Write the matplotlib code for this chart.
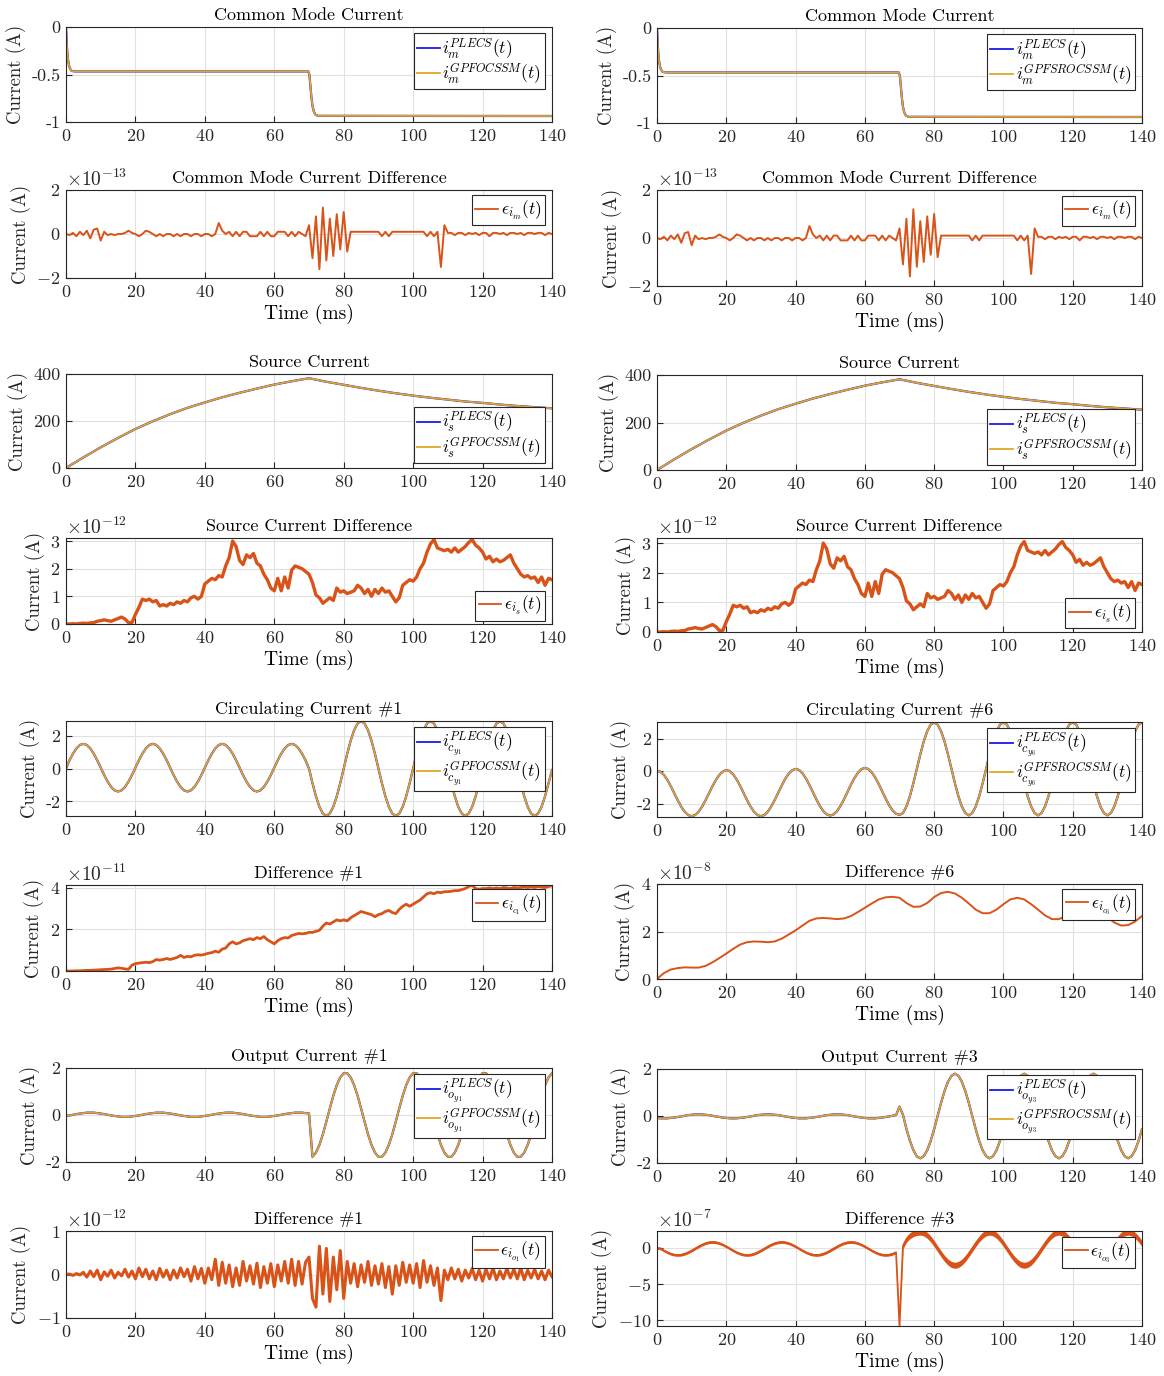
import numpy as np
import matplotlib
matplotlib.use('Agg')
import matplotlib.pyplot as plt
from matplotlib.ticker import FuncFormatter

plt.rcParams.update({
    'font.family': ['cmr10', 'DejaVu Serif'],
    'mathtext.fontset': 'cm',
    'axes.unicode_minus': False,
    'axes.formatter.use_mathtext': True,
    'font.size': 13,
})

# ---------------- data ----------------
time_ms = np.arange(0, 141, 1)          # common 1 ms grid
src_t = np.arange(0, 141, 5)            # source current grid
d6_t = np.arange(0, 141, 2)             # difference #6 grid

cm_t = [0, 0.2, 0.4, 0.6, 0.9, 1.2, 1.6, 2.0, 3.0, 69.8, 70.1, 70.4, 70.7, 71.0, 71.4, 71.8, 72.5, 140]
cm_current = [0, -0.16, -0.28, -0.35, -0.41, -0.44, -0.46, -0.465, -0.468, -0.468,
              -0.50, -0.62, -0.74, -0.83, -0.89, -0.92, -0.935, -0.937]

cm_diff_e13 = ([0.00, -0.05, 0.05, -0.10, 0.10, -0.05, 0.15, -0.20, 0.20, 0.25, -0.30, 0.10]
               + [-0.05, 0.00, -0.05, 0.00, 0.00, 0.05, 0.15, 0.05]
               + [0.00, -0.10, 0.00, 0.15, 0.10, 0.00, -0.10, 0.00, -0.10, 0.00, 0.00, -0.10,
                  0.00, -0.10, 0.00, 0.00, -0.10, 0.00, 0.00, -0.10, 0.00, 0.00, -0.10, 0.00]
               + [0.50]
               + [0.15, 0.00, 0.10, -0.10, 0.10, -0.10, 0.10, 0.10, -0.10, -0.10, -0.10, 0.10,
                  -0.10, 0.10, -0.10, -0.10, 0.10, 0.10, 0.10, -0.10, 0.10, -0.10, 0.10, 0.00, -0.10]
               + [0.40, -1.10, 0.80, -1.60, 1.20, -1.20, 0.70, -1.00, 0.90, -0.70, 1.00, -0.80]
               + [0.10, 0.10, 0.10, 0.10, 0.10, 0.10, 0.10, 0.10, 0.10, -0.10, 0.10, -0.10, 0.10,
                  0.10, 0.10, 0.10, 0.10, 0.10, 0.10, 0.10, 0.10, 0.10, -0.10, 0.10, -0.10, 0.10]
               + [-1.50]
               + [0.40, 0.05, 0.05, -0.05, 0.05, 0.05, -0.05, 0.05, 0.00, 0.05, -0.05, 0.05, 0.05,
                  -0.10, 0.05, 0.05, 0.00, 0.05, -0.05, 0.05, 0.05, 0.00, 0.05, -0.05, 0.05, 0.05,
                  0.00, 0.05, 0.05, -0.05, 0.05, 0.00])

source_current = [0, 45, 88, 128, 166, 199, 229, 256, 279, 301, 320, 338, 355, 369, 382,
                  367, 354, 341, 329, 318, 308, 299, 291, 283, 277, 270, 264, 259, 254]

source_diff_e12 = [0.00, 0.00, 0.01, 0.00, 0.02, 0.03, 0.02, 0.04, 0.05, 0.10,
                   0.12, 0.15, 0.12, 0.10, 0.15, 0.20, 0.25, 0.18, 0.05, 0.05,
                   0.35, 0.60, 0.90, 0.85, 0.90, 0.80, 0.85, 0.65, 0.70, 0.65,
                   0.75, 0.70, 0.80, 0.75, 0.85, 0.80, 0.95, 1.00, 0.90, 1.00,
                   1.45, 1.55, 1.65, 1.60, 1.75, 1.70, 2.10, 2.40, 3.00, 2.80,
                   2.30, 2.15, 2.50, 2.40, 2.55, 2.20, 2.10, 1.80, 1.60, 1.30,
                   1.20, 1.65, 1.20, 1.70, 1.30, 1.95, 2.10, 2.05, 2.00, 1.90,
                   1.80, 1.50, 1.05, 0.95, 0.75, 0.85, 0.95, 0.85, 1.30, 1.15,
                   1.20, 1.10, 1.15, 1.20, 1.40, 1.30, 1.10, 1.25, 1.00, 1.25,
                   1.10, 1.30, 1.15, 1.20, 1.00, 0.80, 0.95, 1.40, 1.50, 1.60,
                   1.55, 1.70, 2.00, 2.20, 2.60, 2.90, 3.05, 2.75, 2.70, 2.65,
                   2.70, 2.60, 2.75, 2.60, 2.70, 2.80, 2.95, 3.05, 2.85, 2.75,
                   2.60, 2.35, 2.45, 2.25, 2.35, 2.25, 2.30, 2.40, 2.50, 2.20,
                   2.00, 1.80, 1.70, 1.75, 1.65, 1.70, 1.50, 1.70, 1.40, 1.65,
                   1.60]

_c1_pre = [0.05, 0.50, 0.90, 1.22, 1.43, 1.50, 1.43, 1.22, 0.90, 0.50,
           0.05, -0.40, -0.80, -1.12, -1.33, -1.40, -1.33, -1.12, -0.80, -0.40]
_c1_post = [0.00, 0.89, 1.69, 2.33, 2.74, 2.88, 2.74, 2.33, 1.69, 0.89,
            0.00, -0.89, -1.69, -2.33, -2.74, -2.88, -2.74, -2.33, -1.69, -0.89]
circ1 = ([0.00] + _c1_pre[1:] + _c1_pre + _c1_pre + _c1_pre[:10]
         + _c1_post[10:] + _c1_post * 3 + [-0.10])

_c6_post = [-2.70, -2.56, -2.16, -1.53, -0.73, 0.15, 1.03, 1.83, 2.46, 2.86,
            3.00, 2.86, 2.46, 1.83, 1.03, 0.15, -0.73, -1.53, -2.16, -2.56]
circ6 = ([0.00, -0.02, -0.22, -0.53, -0.92, -1.35, -1.78, -2.17, -2.48, -2.68,
          -2.75, -2.68, -2.48, -2.17, -1.78, -1.35, -0.92, -0.53, -0.22, -0.02]
         + [0.08, 0.01, -0.19, -0.50, -0.89, -1.33, -1.77, -2.16, -2.48, -2.68,
            -2.75, -2.68, -2.47, -2.15, -1.75, -1.31, -0.87, -0.47, -0.15, 0.06]
         + [0.15, 0.08, -0.12, -0.44, -0.84, -1.28, -1.72, -2.12, -2.44, -2.64,
            -2.71, -2.64, -2.43, -2.11, -1.71, -1.26, -0.81, -0.41, -0.09, 0.13]
         + [0.21, 0.14, -0.07, -0.38, -0.78, -1.23, -1.67, -2.08, -2.40, -2.60]
         + [-2.67] + _c6_post[1:] + _c6_post * 2 + _c6_post[:10] + [3.00])

diff_c1_e11 = [0.00, 0.00, 0.00, 0.01, 0.01, 0.02, 0.03, 0.03, 0.04, 0.05,
               0.06, 0.07, 0.08, 0.09, 0.12, 0.15, 0.13, 0.10, 0.08, 0.28,
               0.35, 0.38, 0.40, 0.42, 0.40, 0.45, 0.55, 0.52, 0.55, 0.60,
               0.55, 0.60, 0.65, 0.75, 0.65, 0.70, 0.68, 0.75, 0.78, 0.76,
               0.80, 0.85, 0.88, 0.95, 0.90, 1.05, 1.10, 1.30, 1.40, 1.30,
               1.35, 1.45, 1.50, 1.55, 1.50, 1.60, 1.55, 1.65, 1.50, 1.40,
               1.30, 1.45, 1.55, 1.60, 1.58, 1.70, 1.75, 1.80, 1.78, 1.80,
               1.85, 1.85, 1.90, 1.95, 2.15, 2.30, 2.25, 2.35, 2.45, 2.40,
               2.45, 2.40, 2.55, 2.65, 2.75, 2.85, 2.80, 2.75, 2.70, 2.60,
               2.70, 2.75, 2.85, 2.90, 2.80, 2.75, 2.95, 3.10, 3.20, 3.10,
               3.20, 3.30, 3.40, 3.55, 3.70, 3.75, 3.70, 3.78, 3.75, 3.80,
               3.80, 3.82, 3.85, 3.85, 3.90, 3.95, 4.05, 4.10, 3.95, 3.92,
               3.95, 3.95, 3.98, 3.95, 3.98, 3.95, 4.00, 3.98, 3.95, 4.00,
               3.98, 4.00, 4.02, 4.00, 4.03, 4.00, 4.05, 4.02, 4.00, 4.05,
               4.08]

diff_c6_e8 = [0.00, 0.25, 0.40, 0.46, 0.49, 0.48, 0.48, 0.55, 0.70, 0.88,
              1.07, 1.27, 1.45, 1.55, 1.58, 1.57, 1.55, 1.58, 1.70, 1.87,
              2.05, 2.25, 2.45, 2.55, 2.57, 2.55, 2.52, 2.55, 2.65, 2.82,
              3.00, 3.18, 3.35, 3.44, 3.46, 3.42, 3.20, 3.04, 3.05, 3.20,
              3.45, 3.62, 3.67, 3.60, 3.42, 3.18, 2.92, 2.77, 2.77, 2.92,
              3.15, 3.35, 3.42, 3.35, 3.15, 2.92, 2.68, 2.52, 2.52, 2.65,
              2.88, 3.08, 3.15, 3.08, 2.85, 2.60, 2.38, 2.25, 2.27, 2.42,
              2.65]

_o1_pre = [-0.04, -0.02, 0.01, 0.04, 0.06, 0.08, 0.10, 0.10, 0.10, 0.08,
           0.06, 0.04, 0.01, -0.02, -0.04, -0.06, -0.08, -0.08, -0.08, -0.06]
_o1_post = [-1.78, -1.60, -1.27, -0.82, -0.28, 0.28, 0.82, 1.27, 1.60, 1.78,
            1.78, 1.60, 1.27, 0.82, 0.28, -0.28, -0.82, -1.27, -1.60, -1.78]
out1 = _o1_pre * 3 + _o1_pre[:10] + [0.07] + _o1_post * 3 + _o1_post[:10]

_o3_pre = [-0.08, -0.10, -0.10, -0.10, -0.08, -0.07, -0.04, -0.02, 0.01, 0.04,
           0.05, 0.07, 0.07, 0.07, 0.05, 0.04, 0.01, -0.02, -0.04, -0.07]
_o3_post = [-1.80, -1.71, -1.46, -1.06, -0.56, 0.00, 0.56, 1.06, 1.46, 1.71,
            1.80, 1.71, 1.46, 1.06, 0.56, 0.00, -0.56, -1.06, -1.46, -1.71]
out3 = (_o3_pre * 3 + _o3_pre[:10] + [0.40] + [0.05, -0.55, -1.05, -1.45, -1.72]
        + _o3_post * 3 + _o3_post[:5])

diff_o1_e12 = [0.00, 0.01, -0.02, 0.02, -0.01, 0.05, -0.06, 0.08, -0.05, 0.10,
               -0.12, 0.06, -0.04, 0.10, -0.08, 0.05, -0.03, 0.12, -0.06, 0.08,
               -0.10, 0.15, -0.05, 0.12, -0.10, 0.08, -0.12, 0.14, -0.06, 0.10,
               -0.12, 0.10, -0.08, 0.15, -0.05, 0.12, -0.15, 0.18, -0.10, 0.14,
               -0.20, 0.15, -0.12, 0.35, -0.25, 0.28, -0.20, 0.22, -0.28, 0.15,
               -0.25, 0.30, -0.15, 0.20, -0.22, 0.26, -0.30, 0.18, -0.20, 0.25,
               -0.28, 0.22, -0.15, 0.30, -0.20, 0.35, -0.25, 0.30, -0.22, 0.28,
               0.40, -0.55, -0.75, 0.65, -0.45, 0.60, -0.62, 0.40, -0.35, 0.55,
               -0.55, 0.30, -0.20, 0.25, -0.28, 0.22, -0.18, 0.30, -0.25, 0.20,
               -0.22, 0.25, -0.30, 0.18, -0.45, 0.20, -0.25, 0.28, -0.18, 0.22,
               -0.20, 0.25, -0.30, 0.32, -0.18, 0.20, -0.25, 0.15, -0.60, 0.10,
               -0.12, 0.15, -0.10, 0.12, -0.15, 0.10, -0.08, 0.14, -0.12, 0.10,
               -0.15, 0.12, -0.10, 0.15, -0.12, 0.08, -0.10, 0.14, -0.08, 0.12,
               -0.10, 0.15, -0.12, 0.10, -0.08, 0.12, -0.10, 0.08, -0.12, 0.10,
               -0.05]

_d3_pre = [-0.08, -0.36, -0.61, -0.81, -0.94, -0.98, -0.94, -0.81, -0.61, -0.36,
           -0.08, 0.20, 0.45, 0.65, 0.78, 0.82, 0.78, 0.65, 0.45, 0.20]
_d3_post = [2.20, 2.09, 1.76, 1.25, 0.61, -0.10, -0.81, -1.45, -1.96, -2.29,
            -2.40, -2.29, -1.96, -1.45, -0.81, -0.10, 0.61, 1.25, 1.76, 2.09]
diff_o3_e7 = ([0.00] + _d3_pre * 3 + _d3_pre[:9] + [-10.8]
              + [0.30, 1.20, 1.70, 2.00, 2.15] + _d3_post * 3 + _d3_post[:5])
diff_o3_ripple_e7 = [0.18] * 71 + [0.42] * 70

# ---------------- style ----------------
BLUE = '#1a1ae6'
ORANGE = '#E2A624'
DIFF = '#D95319'
AXC = '#262626'
W, H = 1164, 1376

fig = plt.figure(figsize=(W / 100, H / 100), dpi=100)


def make_ax(x0, top, x1, bottom):
    ax = fig.add_axes([x0 / W, 1 - bottom / H, (x1 - x0) / W, (bottom - top) / H])
    ax.set_xlim(0, 140)
    ax.set_xticks(np.arange(0, 141, 20))
    ax.grid(True, color='#e1e1e1', lw=0.8)
    ax.set_axisbelow(True)
    for s in ax.spines.values():
        s.set_color(AXC)
        s.set_linewidth(0.8)
    ax.tick_params(direction='in', length=4, width=0.8, color=AXC,
                   labelcolor=AXC, labelsize=13, pad=4)
    ax.set_ylabel('Current (A)', fontsize=13.5, color=AXC, labelpad=4)
    return ax


def plain_fmt(ax):
    ax.yaxis.set_major_formatter(FuncFormatter(lambda v, p: f'{v:g}'))


def sci(ax, p):
    ax.ticklabel_format(axis='y', style='sci', scilimits=(p, p), useMathText=True)
    ax.yaxis.get_offset_text().set_fontsize(14)
    ax.yaxis.get_offset_text().set_color(AXC)


def leg(ax, loc='upper right', anchor=(0.985, 0.94)):
    lg = ax.legend(loc=loc, bbox_to_anchor=anchor, fontsize=12.5, frameon=True,
                   fancybox=False, edgecolor=AXC, framealpha=1, borderpad=0.2,
                   handlelength=1.3, handletextpad=0.15, labelspacing=0.05,
                   borderaxespad=0)
    lg.get_frame().set_linewidth(0.8)
    for h in lg.get_lines():
        h.set_linewidth(1.3)


def pair(ax, t, y, sub, name):
    ax.plot(t, y, color=BLUE, lw=1.6, label=rf'$i_{{{sub}}}^{{PLECS}}(t)$')
    ax.plot(t, y, color=ORANGE, lw=1.3, label=rf'$i_{{{sub}}}^{{{name}}}(t)$')


def title(ax, s):
    ax.set_title(s, fontsize=13, pad=5)


def xlab(ax):
    ax.set_xlabel('Time (ms)', fontsize=14, labelpad=3)


cols = [(66, 552, 'GPFOCSSM'), (657, 1142, 'GPFSROCSSM')]
rows_L = [(27, 122), (190, 278), (374, 468), (538, 624), (721, 816), (885, 971), (1068, 1162), (1231, 1318)]
rows_R = [(28, 123), (190, 286), (375, 470), (538, 632), (722, 817), (884, 979), (1069, 1163), (1231, 1326)]

for ci, ((x0, x1, name), rows) in enumerate(zip(cols, [rows_L, rows_R])):
    # Row 1: common mode current
    ax = make_ax(x0, rows[0][0], x1, rows[0][1])
    pair(ax, cm_t, cm_current, 'm', name)
    ax.set_ylim(-1, 0)
    ax.set_yticks([-1, -0.5, 0])
    plain_fmt(ax)
    title(ax, 'Common Mode Current')
    leg(ax)

    # Row 2: CM diff
    ax = make_ax(x0, rows[1][0], x1, rows[1][1])
    ax.plot(time_ms, np.array(cm_diff_e13) * 1e-13, color=DIFF, lw=1.4, label=r'$\epsilon_{i_m}(t)$')
    ax.set_ylim(-2e-13, 2e-13)
    ax.set_yticks([-2e-13, 0, 2e-13])
    sci(ax, -13)
    title(ax, 'Common Mode Current Difference')
    xlab(ax)
    leg(ax)

    # Row 3: source current
    ax = make_ax(x0, rows[2][0], x1, rows[2][1])
    pair(ax, src_t, source_current, 's', name)
    ax.set_ylim(0, 400)
    ax.set_yticks([0, 200, 400])
    plain_fmt(ax)
    title(ax, 'Source Current')
    leg(ax, 'lower right', (0.985, 0.05))

    # Row 4: source diff
    ax = make_ax(x0, rows[3][0], x1, rows[3][1])
    ax.plot(time_ms, np.array(source_diff_e12) * 1e-12, color=DIFF, lw=2.4, label=r'$\epsilon_{i_s}(t)$')
    ax.set_ylim(0, (3.11 if ci == 0 else 3.17) * 1e-12)
    ax.set_yticks([0, 1e-12, 2e-12, 3e-12])
    sci(ax, -12)
    title(ax, 'Source Current Difference')
    xlab(ax)
    leg(ax, 'lower right', (0.985, 0.04))

    # Row 5: circulating current
    ax = make_ax(x0, rows[4][0], x1, rows[4][1])
    if ci == 0:
        pair(ax, time_ms, circ1, 'c_{y_1}', name)
        ax.set_ylim(-2.89, 2.89)
        title(ax, 'Circulating Current #1')
    else:
        pair(ax, time_ms, circ6, 'c_{y_6}', name)
        ax.set_ylim(-2.8, 3.02)
        title(ax, 'Circulating Current #6')
    ax.set_yticks([-2, 0, 2])
    plain_fmt(ax)
    leg(ax)

    # Row 6: circulating difference
    ax = make_ax(x0, rows[5][0], x1, rows[5][1])
    if ci == 0:
        ax.plot(time_ms, np.array(diff_c1_e11) * 1e-11, color=DIFF, lw=2.0, label=r'$\epsilon_{i_{c_1}}(t)$')
        ax.set_ylim(0, 4.12e-11)
        ax.set_yticks([0, 2e-11, 4e-11])
        sci(ax, -11)
        title(ax, 'Difference #1')
    else:
        ax.plot(d6_t, np.array(diff_c6_e8) * 1e-8, color=DIFF, lw=1.4, label=r'$\epsilon_{i_{c_6}}(t)$')
        ax.set_ylim(0, 4e-8)
        ax.set_yticks([0, 2e-8, 4e-8])
        sci(ax, -8)
        title(ax, 'Difference #6')
    xlab(ax)
    leg(ax, anchor=(0.985, 0.95))

    # Row 7: output current
    ax = make_ax(x0, rows[6][0], x1, rows[6][1])
    if ci == 0:
        pair(ax, time_ms, out1, 'o_{y_1}', name)
        title(ax, 'Output Current #1')
    else:
        pair(ax, time_ms, out3, 'o_{y_3}', name)
        title(ax, 'Output Current #3')
    ax.set_ylim(-2, 2)
    ax.set_yticks([-2, 0, 2])
    plain_fmt(ax)
    leg(ax)

    # Row 8: output difference
    ax = make_ax(x0, rows[7][0], x1, rows[7][1])
    if ci == 0:
        ax.plot(time_ms, np.array(diff_o1_e12) * 1e-12, color=DIFF, lw=2.2, label=r'$\epsilon_{i_{o_1}}(t)$')
        ax.set_ylim(-1e-12, 1e-12)
        ax.set_yticks([-1e-12, 0, 1e-12])
        sci(ax, -12)
        title(ax, 'Difference #1')
    else:
        c = np.array(diff_o3_e7)
        r = np.array(diff_o3_ripple_e7)
        ax.fill_between(time_ms, (c - r) * 1e-7, (c + r) * 1e-7, color=DIFF, lw=0)
        ax.plot(time_ms, c * 1e-7, color=DIFF, lw=1.3, label=r'$\epsilon_{i_{o_3}}(t)$')
        ax.set_ylim(-10.8e-7, 2.35e-7)
        ax.set_yticks([-10e-7, -5e-7, 0])
        sci(ax, -7)
        title(ax, 'Difference #3')
    xlab(ax)
    leg(ax)

fig.savefig('out.png', dpi=100)
